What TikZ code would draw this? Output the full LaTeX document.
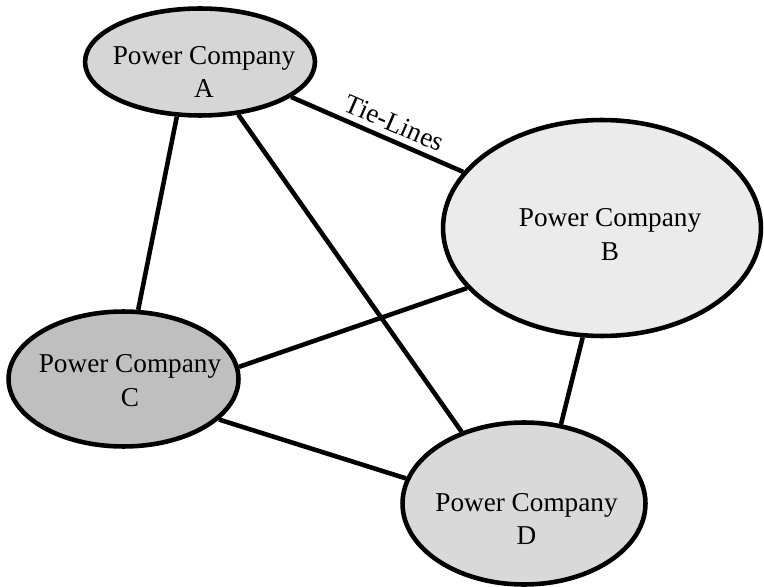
\documentclass[tikz,border=0pt]{standalone}
\usepackage{fontspec}
\setmainfont{Liberation Serif}
\usepackage{tikz}
\usetikzlibrary{shapes.geometric}

\definecolor{fillA}{gray}{0.84}
\definecolor{fillB}{gray}{0.92}
\definecolor{fillC}{gray}{0.75}
\definecolor{fillD}{gray}{0.85}

\begin{document}
\begin{tikzpicture}[x=0.02cm, y=-0.02cm,
    company/.style={ellipse, draw, line width=2.6pt, inner sep=0pt},
    companytext/.style={align=center, font=\fontsize{15.5}{19}\selectfont},
    tie/.style={line width=2.6pt}]
    \useasboundingbox (0,0) rectangle (764,587);
    \node[company, fill=fillA, minimum width=4.6cm, minimum height=2.14cm] (A) at (200,62) {};
    \node[company, fill=fillB, minimum width=6.36cm, minimum height=4.32cm] (B) at (602,228) {};
    \node[company, fill=fillC, minimum width=4.6cm, minimum height=2.7cm] (C) at (123.5,379) {};
    \node[company, fill=fillD, minimum width=4.86cm, minimum height=3.24cm] (D) at (524,503.5) {};
    \node[companytext] (A-text) at (204,72) {Power Company\\A};
    \node[companytext] (B-text) at (610,234.5) {Power Company\\B};
    \node[companytext] (C-text) at (130,380.5) {Power Company\\C};
    \node[companytext] (D-text) at (526.5,519) {Power Company\\D};
    \draw[tie] (A.-21) -- node[pos=0.56, above, sloped, companytext] (tie-text) {Tie-Lines} (B.158);
    \draw[tie] (A.-113) -- (C.78);
    \draw[tie] (A.-54) -- (D.131);
    \draw[tie] (B.204) -- (C.6);
    \draw[tie] (B.-100) -- (D.65);
    \draw[tie] (C.-23) -- (D.168);
\end{tikzpicture}
\end{document}
